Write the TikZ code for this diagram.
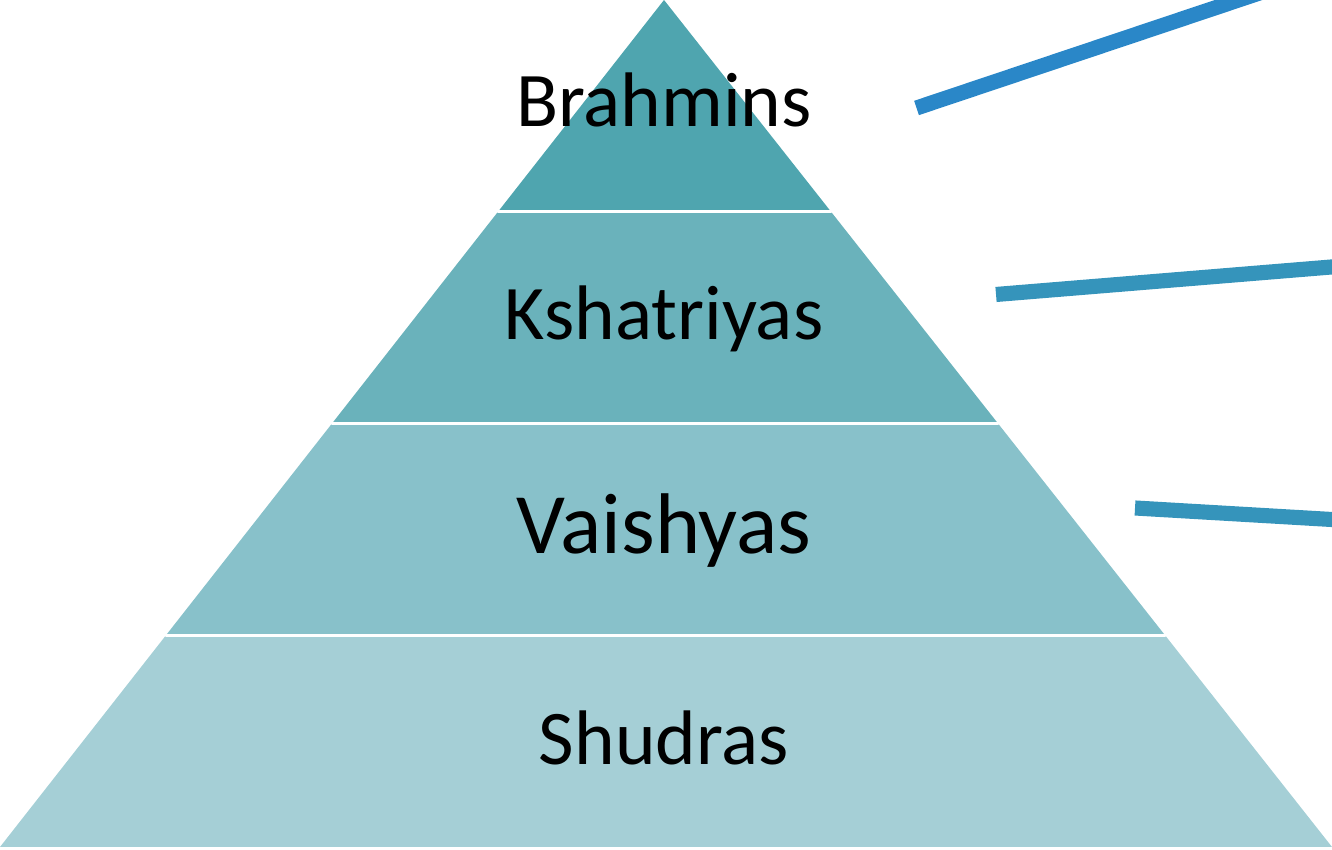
\documentclass[tikz,border=0pt]{standalone}
\usepackage{fontspec}
\setmainfont{Carlito}
\usepackage{tkz-euclide}
\usetikzlibrary{calc}

\definecolor{bandA}{HTML}{4FA5AF}
\definecolor{bandB}{HTML}{6AB2BB}
\definecolor{bandC}{HTML}{88C1CA}
\definecolor{bandD}{HTML}{A5CFD6}
\definecolor{lineA}{HTML}{2A87C8}
\definecolor{lineB}{HTML}{3594BB}

\tikzset{caste/.style={font=\fontsize{22}{26}\selectfont,anchor=base},
  pointer/.style={line width=4.3pt}}

\begin{document}
\begin{tikzpicture}
\clip (0,0) rectangle (13.32,8.5);

\tkzDefPoint(6.64,8.5){A}
\tkzDefPoint(0,0.03){B}
\tkzDefPoint(13.32,0.03){C}
% points on the sides
\coordinate (D) at ($(A)!.25!(B)$);
\coordinate (E) at ($(A)!.25!(C)$);
\coordinate (F) at ($(A)!.5!(B)$);
\coordinate (G) at ($(A)!.5!(C)$);
\coordinate (H) at ($(A)!.75!(B)$);
\coordinate (I) at ($(A)!.75!(C)$);

\fill[bandA] (A)--(D)--(E)--cycle;
\fill[bandB] (D)--(F)--(G)--(E)--cycle;
\fill[bandC] (F)--(H)--(I)--(G)--cycle;
\fill[bandD] (H)--(B)--(C)--(I)--cycle;
\tkzDrawSegments[white,line width=.9pt](D,E F,G H,I)

\node[caste] (brahmins) at (6.64,7.23) {Brahmins};
\node[caste] (kshatriyas) at (6.64,5.10) {Kshatriyas};
\node[caste,font=\fontsize{24.5}{28}\selectfont] (vaishyas) at (6.64,2.96) {Vaishyas};
\node[caste] (shudras) at (6.64,0.85) {Shudras};

% pointers
\coordinate (P1) at (9.165,7.42);
\coordinate (Q1) at (13.40,8.84);
\coordinate (P2) at (9.96,5.555);
\coordinate (Q2) at (13.40,5.837);
\coordinate (P3) at (11.35,3.42);
\coordinate (Q3) at (13.40,3.30);
\draw[pointer,lineA] (P1)--(Q1);
\draw[pointer,lineB] (P2)--(Q2);
\draw[pointer,lineB] (P3)--(Q3);

\end{tikzpicture}
\end{document}
